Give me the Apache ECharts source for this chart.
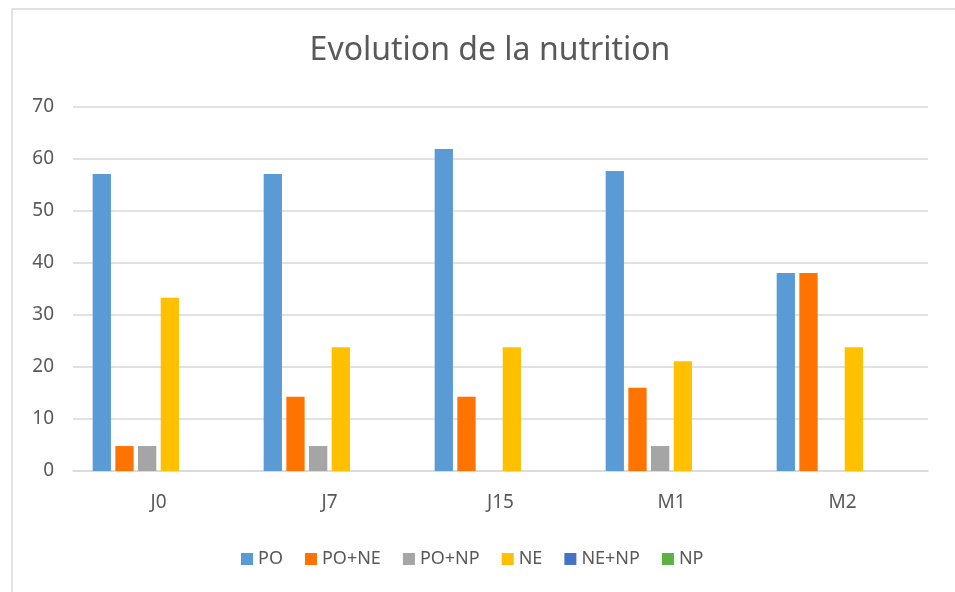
<!DOCTYPE html>
<html>
<head>
<meta charset="utf-8">
<script src="https://cdn.jsdelivr.net/npm/echarts@6/dist/echarts.min.js"></script>
<style>
  html, body { margin: 0; padding: 0; background: #fff; }
  #chart { width: 955px; height: 592px; }
</style>
</head>
<body>
<div id="chart"></div>
<script>
// Categories (time points)
const categories = ['J0', 'J7', 'J15', 'M1', 'M2'];

// Series values (%)
const po     = [57.1, 57.1, 61.9, 57.7, 38.1];
const poNe   = [4.8, 14.3, 14.3, 16.0, 38.1];
const poNp   = [4.8, 4.8, 0, 4.8, 0];
const ne     = [33.3, 23.8, 23.8, 21.1, 23.8];
const neNp   = [0, 0, 0, 0, 0];
const np     = [0, 0, 0, 0, 0];

const seriesNames = ['PO', 'PO+NE', 'PO+NP', 'NE', 'NE+NP', 'NP'];
const seriesData = [po, poNe, poNp, ne, neNp, np];
const colors = ['#5B9BD5', '#FF7300', '#A5A5A5', '#FFC000', '#4472C4', '#5AB243'];

const textColor = '#595959';
const font = 'Noto Sans';

const chart = echarts.init(document.getElementById('chart'));
chart.setOption({
  animation: false,
  color: colors,
  textStyle: { fontFamily: font },
  title: {
    text: 'Evolution de la nutrition',
    left: 485,
    textAlign: 'center',
    top: 30,
    textStyle: { fontFamily: font, fontSize: 32, fontWeight: 'normal', color: textColor }
  },
  legend: {
    data: seriesNames,
    left: 236,
    top: 545,
    itemWidth: 12,
    itemHeight: 12,
    itemGap: 22,
    icon: 'rect',
    textStyle: { fontFamily: font, fontSize: 18, color: textColor }
  },
  grid: { left: 73, right: 27, top: 107, bottom: 121, containLabel: false },
  xAxis: {
    type: 'category',
    data: categories,
    axisLine: { show: true, lineStyle: { color: '#d9d9d9', width: 1.5 } },
    axisTick: { show: false },
    axisLabel: { color: textColor, fontSize: 19, fontFamily: font, margin: 22 }
  },
  yAxis: {
    type: 'value',
    min: 0,
    max: 70,
    interval: 10,
    axisLine: { show: false },
    axisTick: { show: false },
    axisLabel: { color: textColor, fontSize: 19, fontFamily: font, margin: 19 },
    splitLine: { lineStyle: { color: '#d9d9d9', width: 1.5 } }
  },
  graphic: [{
    type: 'polyline',
    shape: { points: [[12, 600], [12, 9], [955, 9]] },
    style: { stroke: '#d9d9d9', lineWidth: 1.5, fill: null },
    silent: true
  }],
  series: seriesNames.map((name, i) => ({
    name: name,
    type: 'bar',
    data: seriesData[i],
    barGap: '24%',
    barCategoryGap: '23%'
  }))
});
</script>
</body>
</html>
